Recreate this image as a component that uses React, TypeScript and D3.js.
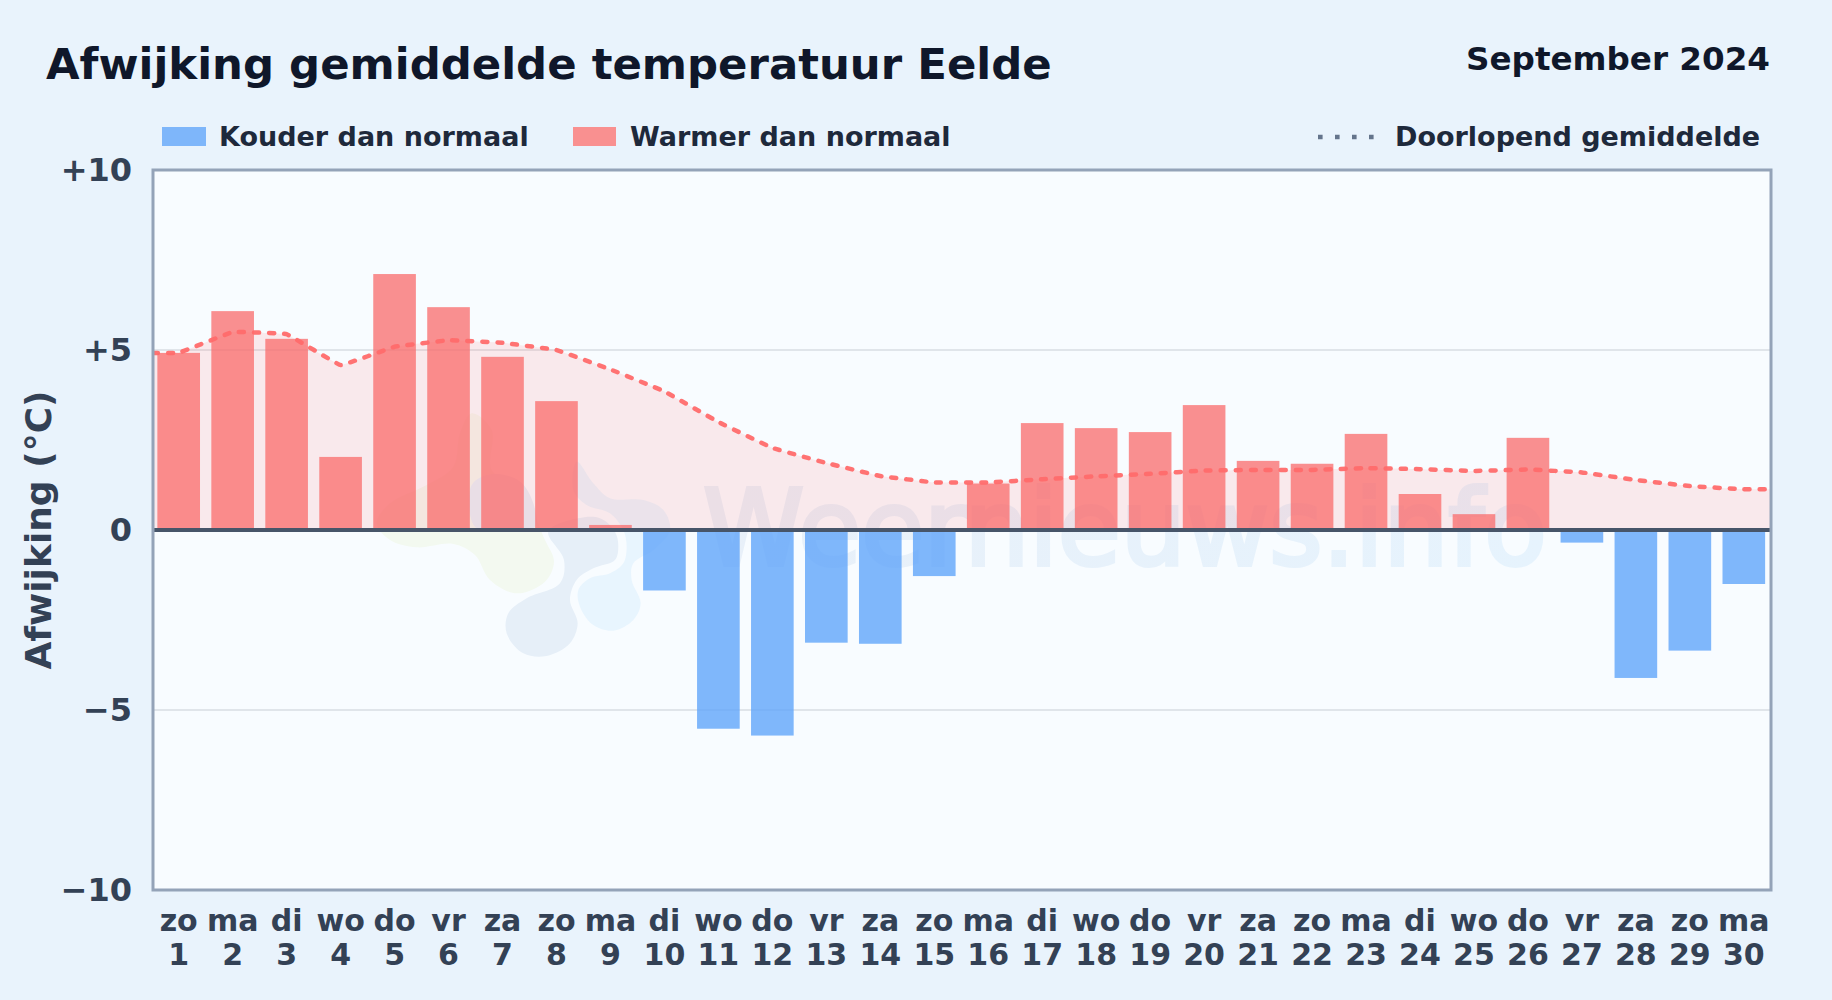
import React from "react";
import * as d3 from "d3";

const dayNames = ["zo","ma","di","wo","do","vr","za","zo","ma","di","wo","do","vr","za","zo","ma","di","wo","do","vr","za","zo","ma","di","wo","do","vr","za","zo","ma"];
const dayNumbers = ["1","2","3","4","5","6","7","8","9","10","11","12","13","14","15","16","17","18","19","20","21","22","23","24","25","26","27","28","29","30"];
const deviations = [4.92,6.08,5.31,2.03,7.11,6.19,4.81,3.58,0.14,-1.68,-5.52,-5.71,-3.13,-3.16,-1.28,1.29,2.97,2.83,2.72,3.47,1.92,1.84,2.67,1.0,0.44,2.56,-0.35,-4.11,-3.35,-1.5];
const runningMean = [4.92,5.5,5.44,4.58,5.09,5.27,5.2,5.0,4.46,3.85,3.0,2.28,1.86,1.5,1.32,1.32,1.41,1.49,1.56,1.65,1.67,1.67,1.72,1.69,1.64,1.68,1.6,1.39,1.22,1.13];
const yTicks = [10,5,0,-5,-10];
const yTickLabels = ["+10","+5","0","−5","−10"];
const legendCold = "Kouder dan normaal";
const legendWarm = "Warmer dan normaal";
const legendMean = "Doorlopend gemiddelde";

const FONT = "'DejaVu Sans', sans-serif";
const W = 1832, H = 1000;
const plot = { l: 153, r: 1771, t: 170, b: 890 };
const y = d3.scaleLinear().domain([-10, 10]).range([plot.b, plot.t]);
const x = d3.scaleBand<number>().domain(d3.range(30)).range([151.7, 1770.8]).paddingInner(0.21).paddingOuter(0.105);
const cx = (i: number) => (x(i) as number) + x.bandwidth() / 2;

type P = [number, number];
const meanPoints: P[] = [
  [plot.l, y(runningMean[0])],
  ...runningMean.map((v, i): P => [cx(i), y(v)]),
  [plot.r, y(runningMean[29])],
];
const curve = d3.curveCardinal.tension(0.85);
const linePath = d3.line<P>().x(d => d[0]).y(d => d[1]).curve(curve)(meanPoints) as string;
const areaPath = d3.area<P>().x(d => d[0]).y0(y(0)).y1(d => d[1]).curve(curve)(meanPoints) as string;

const blob = d3.line<P>().curve(d3.curveCatmullRomClosed.alpha(0.5));
const logoGreen: P[] = [[335,70],[300,130],[280,230],[200,285],[90,340],[50,400],[90,450],[170,472],[280,462],[345,495],[390,570],[470,610],[555,575],[582,515],[555,450],[480,300],[395,240],[395,120]];
const logoGreyTop: P[] = [[335,285],[400,252],[480,275],[520,340],[525,410],[430,418],[345,410]];
const logoGreyMain: P[] = [[655,385],[720,385],[765,425],[775,470],[765,510],[700,535],[650,570],[630,630],[653,700],[630,760],[560,798],[490,790],[440,730],[445,670],[500,625],[600,580],[612,510],[565,425]];
const logoBlue: P[] = [[650,215],[700,280],[750,325],[850,330],[910,360],[930,420],[880,480],[820,520],[815,570],[842,640],[820,690],[760,722],[700,705],[660,650],[655,600],[690,565],[750,550],[790,520],[800,470],[790,420],[750,370],[680,345],[640,300]];

export default function App() {
  return (
    <svg width={W} height={H} viewBox={`0 0 ${W} ${H}`} style={{ position: "absolute", left: 0, top: 0, display: "block" }} fontFamily={FONT}>
      <defs>
        <clipPath id="plotClip"><rect x={plot.l} y={plot.t} width={plot.r - plot.l} height={plot.b - plot.t} /></clipPath>
        <linearGradient id="wm" x1="703" x2="1547" y1="0" y2="0" gradientUnits="userSpaceOnUse">
          <stop offset="0" stopColor="#e8f0f9" />
          <stop offset="1" stopColor="#e6f3fd" />
        </linearGradient>
      </defs>
      <rect x={0} y={0} width={W} height={H} fill="#e9f3fc" />
      <text x={46} y={79} fontSize={43.4} fontWeight={700} fill="#0f172a">Afwijking gemiddelde temperatuur Eelde</text>
      <text x={1770} y={70} fontSize={32.6} fontWeight={700} fill="#0f172a" textAnchor="end">September 2024</text>

      <rect x={162} y={127} width={44} height={19} fill="#7eb6fa" />
      <text x={219} y={146} fontSize={27} fontWeight={700} fill="#1e293b">{legendCold}</text>
      <rect x={573} y={127} width={43} height={19} fill="#f99090" />
      <text x={630} y={146} fontSize={27} fontWeight={700} fill="#1e293b">{legendWarm}</text>
      <line x1={1318} x2={1375} y1={137} y2={137} stroke="#64748b" strokeWidth={4.5} strokeDasharray="4.6 12.4" />
      <text x={1395} y={146} fontSize={27} fontWeight={700} fill="#1e293b">{legendMean}</text>

      <rect x={plot.l} y={plot.t} width={plot.r - plot.l} height={plot.b - plot.t} fill="#f8fcff" />
      <g clipPath="url(#plotClip)">
        <g transform="translate(360,390) scale(0.3333)">
          <path d={blob(logoGreen) as string} fill="#f3f9f0" />
          <path d={blob(logoBlue) as string} fill="#e8f5fe" />
          <path d={blob(logoGreyTop) as string} fill="#e6eff8" />
          <path d={blob(logoGreyMain) as string} fill="#e6eff8" stroke="#f8fcff" strokeWidth={22} paintOrder="stroke" />
        </g>
        <text x={703} y={565} fontSize={106} fill="url(#wm)" stroke="url(#wm)" strokeWidth={4} textLength={844} lengthAdjust="spacingAndGlyphs">Weernieuws.info</text>
        {yTicks.filter(t => t === 5 || t === -5).map(t => (
          <line key={t} x1={plot.l} x2={plot.r} y1={y(t)} y2={y(t)} stroke="#e0e5ea" strokeWidth={2} />
        ))}
        <path d={areaPath} fill="#ff6b6b" fillOpacity={0.13} />
        {deviations.map((v, i) => (
          <rect key={i} x={x(i)} width={x.bandwidth()} y={Math.min(y(v), y(0))} height={Math.abs(y(v) - y(0))}
            fill={v >= 0 ? "#f96b6b" : "#60a5fa"} fillOpacity={v >= 0 ? 0.75 : 0.8} />
        ))}
        <path d={linePath} fill="none" stroke="#ff6b6b" strokeOpacity={0.95} strokeWidth={4.5} strokeLinecap="round" strokeDasharray="5 10" />
      </g>
      <line x1={plot.l} x2={plot.r} y1={y(0)} y2={y(0)} stroke="#475569" strokeWidth={4} />
      <rect x={plot.l} y={plot.t} width={plot.r - plot.l} height={plot.b - plot.t} fill="none" stroke="#94a3b8" strokeWidth={3} />

      {yTicks.map((t, i) => (
        <text key={t} x={132} y={y(t)} dy="0.35em" textAnchor="end" fontSize={32} fontWeight={700} fill="#334155">{yTickLabels[i]}</text>
      ))}
      {dayNames.map((d, i) => (
        <g key={i} fontSize={30} fontWeight={700} fill="#334155" textAnchor="middle">
          <text x={cx(i)} y={931}>{d}</text>
          <text x={cx(i)} y={965}>{dayNumbers[i]}</text>
        </g>
      ))}
      <text transform={`translate(51,530) rotate(-90)`} textAnchor="middle" fontSize={36} fontWeight={700} fill="#334155">Afwijking (°C)</text>
    </svg>
  );
}
